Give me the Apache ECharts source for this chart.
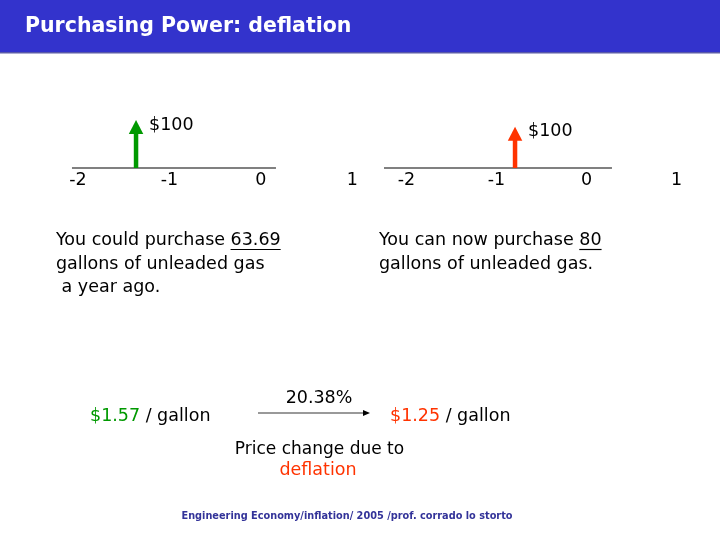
<!DOCTYPE html>
<html><head><meta charset="utf-8">
<script src="https://cdn.jsdelivr.net/npm/echarts@6/dist/echarts.min.js"></script>
<style>html,body{margin:0;padding:0;background:#fff}#main{width:720px;height:540px}</style>
</head><body><div id="main"></div>
<script>
// ---- data ----
const periods = [-2, -1, 0, 1];
const tickLabels = ['-2', '-1', '0', '1'];
const pastTimeline = [-2.066, 0.166];      // extent of the drawn time line (left diagram)
const presentTimeline = [-2.25, 0.283];    // extent of the drawn time line (right diagram)
const pastFlowTime = [-1.365];
const pastFlowAmount = [100];
const presentFlowTime = [-0.794];
const presentFlowAmount = [100];
const pastGallons = '63.69';
const presentGallons = '80';
const pastPrice = '$1.57';
const presentPrice = '$1.25';
const priceChange = '20.38%';

const FONT = '"DejaVu Sans", sans-serif';
const FS = 17.5;
const GREEN = '#009900', RED = '#FF3300';

const cv = document.createElement('canvas').getContext('2d');
function tw(text, size, weight) {
  cv.font = (weight || 'normal') + ' ' + size + 'px ' + FONT;
  return cv.measureText(text).width;
}

function flowRender(color) {
  return function (params, api) {
    const t = api.value(0), a = api.value(1);
    const base = api.coord([t, 0]);
    const tip = api.coord([t, a]);
    const headH = 14, headW = 14.5, shaftW = 4.5;
    return {
      type: 'group',
      children: [
        { type: 'rect', shape: { x: base[0] - shaftW / 2, y: tip[1] + headH - 1, width: shaftW, height: base[1] - tip[1] - headH + 1 }, style: { fill: color } },
        { type: 'polygon', shape: { points: [[tip[0] - headW / 2, tip[1] + headH], [tip[0], tip[1]], [tip[0] + headW / 2, tip[1] + headH]] }, style: { fill: color } },
        { type: 'text', x: tip[0] + 13, y: tip[1] + 5, style: { text: '$' + a, fontSize: FS, fontFamily: FONT, fill: '#000', align: 'left', verticalAlign: 'middle', textAlign: 'left', textVerticalAlign: 'middle' } }
      ]
    };
  };
}
function lineRender(params, api) {
  const p0 = api.coord([api.value(0), 0]);
  const p1 = api.coord([api.value(1), 0]);
  return { type: 'line', shape: { x1: p0[0], y1: p0[1], x2: p1[0], y2: p1[1] }, style: { stroke: '#808080', lineWidth: 2.2 } };
}

function xAxisFor(gi) {
  return {
    type: 'value', gridIndex: gi, min: periods[0], max: periods[periods.length - 1], interval: 1,
    axisLine: { show: false }, axisTick: { show: false }, splitLine: { show: false },
    axisLabel: { show: true, margin: 3, fontSize: FS, fontFamily: FONT, color: '#000', showMinLabel: true, showMaxLabel: true,
      formatter: v => tickLabels[periods.indexOf(v)] }
  };
}

function txt(text, x, y, opt) {
  opt = opt || {};
  return { type: 'text', x: x, y: y, z: 10, style: {
    text: text, fontSize: opt.size || FS, fontWeight: opt.weight || 'normal', fontFamily: FONT, fill: opt.color || '#000',
    align: opt.align || 'left', verticalAlign: 'middle', textAlign: opt.align || 'left', textVerticalAlign: 'middle' } };
}
function uline(x1, x2, y) {
  return { type: 'line', z: 10, shape: { x1: x1, y1: y, x2: x2, y2: y }, style: { stroke: '#000', lineWidth: 1.2 } };
}

const graphics = [];
graphics.push({ type: 'rect', z: 1, shape: { x: 0, y: 0, width: 720, height: 53 }, style: { fill: '#3333CC' } });
graphics.push({ type: 'rect', z: 1, shape: { x: 0, y: 52, width: 720, height: 1.5 }, style: { fill: '#5a5aa8' } });
graphics.push(txt('Purchasing Power: deflation', 25, 27, { size: 20.5, weight: 'bold', color: '#fff' }));

// left text block
const lx = 56;
const l1a = 'You could purchase ';
graphics.push(txt(l1a + pastGallons, lx, 240));
graphics.push(uline(lx + tw(l1a, FS), lx + tw(l1a + pastGallons, FS), 249.5));
graphics.push(txt('gallons of unleaded gas', lx, 264));
graphics.push(txt(' a year ago.', lx, 287));
// right text block
const rx = 379;
const r1a = 'You can now purchase ';
graphics.push(txt(r1a + presentGallons, rx, 240));
graphics.push(uline(rx + tw(r1a, FS), rx + tw(r1a + presentGallons, FS), 249.5));
graphics.push(txt('gallons of unleaded gas.', rx, 264));

// bottom row
graphics.push(txt(pastPrice, 90, 416, { color: GREEN }));
graphics.push(txt(' / gallon', 90 + tw(pastPrice, FS), 416));
graphics.push(txt(presentPrice, 390, 416, { color: RED }));
graphics.push(txt(' / gallon', 390 + tw(presentPrice, FS), 416));
graphics.push(txt(priceChange, 319, 398, { align: 'center' }));
graphics.push({ type: 'line', z: 10, shape: { x1: 258, y1: 413, x2: 364, y2: 413 }, style: { stroke: '#777', lineWidth: 1.5 } });
graphics.push({ type: 'polygon', z: 10, shape: { points: [[363, 410], [370, 413], [363, 416]] }, style: { fill: '#000' } });
graphics.push(txt('Price change due to', 319.5, 450, { align: 'center', size: 17 }));
graphics.push(txt('deflation', 318, 470, { align: 'center', color: RED }));

// footer
graphics.push(txt('Engineering Economy/inflation/ 2005 /prof. corrado lo storto', 347, 516, { align: 'center', size: 9.75, weight: 'bold', color: '#333399' }));

const chart = echarts.init(document.getElementById('main'), null, { renderer: 'canvas' });
chart.setOption({
  backgroundColor: '#fff',
  animation: false,
  grid: [
    { left: 78, top: 120, width: 274.2, height: 48 },
    { left: 406.5, top: 126.7, width: 270, height: 41.3 }
  ],
  xAxis: [xAxisFor(0), xAxisFor(1)],
  yAxis: [
    { type: 'value', gridIndex: 0, min: 0, max: 100, show: false },
    { type: 'value', gridIndex: 1, min: 0, max: 100, show: false }
  ],
  series: [
    { type: 'custom', xAxisIndex: 0, yAxisIndex: 0, clip: false, renderItem: lineRender, data: [pastTimeline] },
    { type: 'custom', xAxisIndex: 1, yAxisIndex: 1, clip: false, renderItem: lineRender, data: [presentTimeline] },
    { type: 'custom', xAxisIndex: 0, yAxisIndex: 0, clip: false, renderItem: flowRender(GREEN), data: pastFlowTime.map((t, i) => [t, pastFlowAmount[i]]) },
    { type: 'custom', xAxisIndex: 1, yAxisIndex: 1, clip: false, renderItem: flowRender(RED), data: presentFlowTime.map((t, i) => [t, presentFlowAmount[i]]) }
  ],
  graphic: graphics
});
</script></body></html>
